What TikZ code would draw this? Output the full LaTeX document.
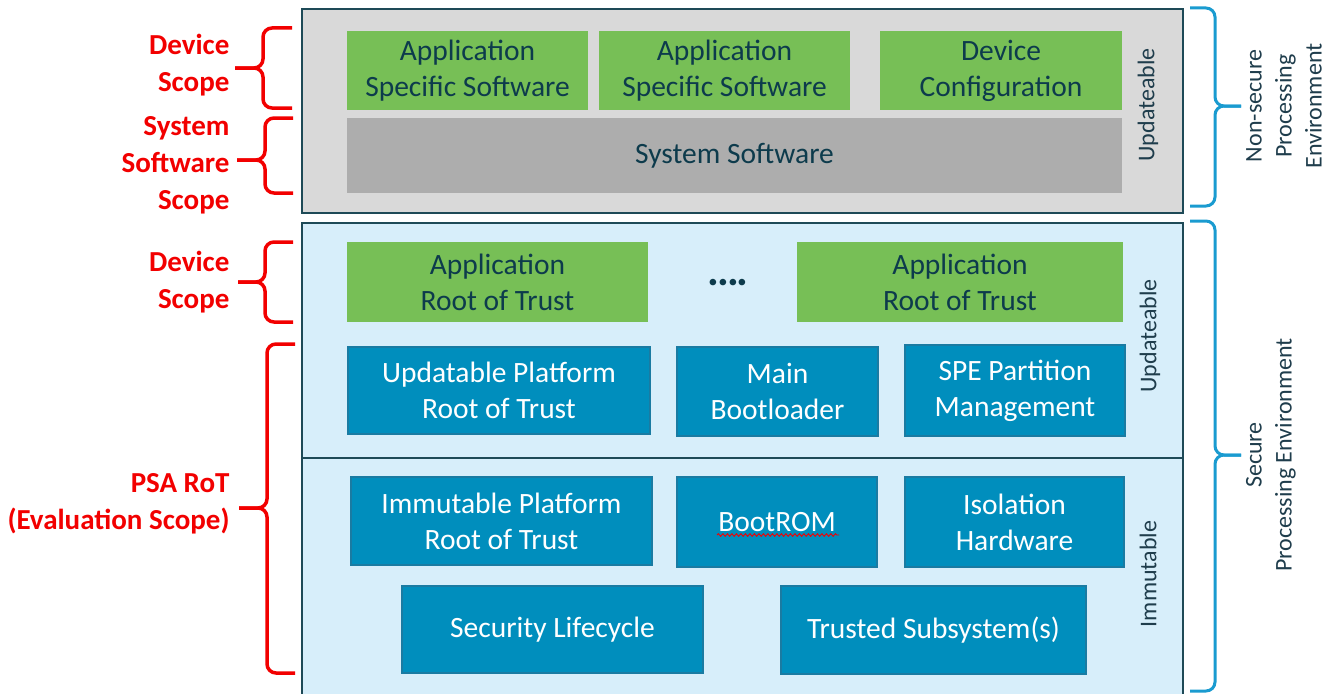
\documentclass[tikz,border=0pt]{standalone}
\usepackage{fontspec}
\setmainfont{Carlito}
\usetikzlibrary{decorations.pathmorphing}
\definecolor{frameC}{HTML}{1E4A57}
\definecolor{grayF}{HTML}{D9D9D9}
\definecolor{sysF}{HTML}{ADADAD}
\definecolor{greenF}{HTML}{77BF56}
\definecolor{secF}{HTML}{D7EEFA}
\definecolor{blueF}{HTML}{008EBD}
\definecolor{blueD}{HTML}{1A7BA2}
\definecolor{txtD}{HTML}{0D3B4C}
\definecolor{sideT}{HTML}{1F3D4C}
\definecolor{redL}{HTML}{F20000}
\definecolor{braceB}{HTML}{1A9BD0}
\tikzset{
  layer/.style={draw=frameC, line width=2pt, inner sep=0pt},
  greenbox/.style={fill=greenF, draw=none, inner sep=0pt, align=center, text=txtD,
    font=\fontsize{29.5}{36}\selectfont},
  sysbox/.style={fill=sysF, draw=none, inner sep=0pt, align=center, text=txtD,
    font=\fontsize{29.5}{36}\selectfont},
  bluebox/.style={fill=blueF, draw=blueD, line width=1.2pt, inner sep=0pt, align=center, text=white,
    font=\fontsize{29.5}{36}\selectfont},
  sidelabel/.style={rotate=90, text=sideT, font=\fontsize{24}{30}\selectfont, align=center},
  scopelabel/.style={text=redL, font=\bfseries\fontsize{29}{37}\selectfont, align=right, anchor=east},
  redbrace/.style={draw=redL, line width=3.5pt, rounded corners=9pt},
  bluebrace/.style={draw=braceB, line width=3pt, rounded corners=9pt},
}
\begin{document}
\begin{tikzpicture}[x=1pt, y=-1pt]
\useasboundingbox (0,0) rectangle (1337,693);
% layers
\node[layer, fill=grayF, minimum width=881pt, minimum height=204pt] (ns) at (742.5,111) {};
\node[layer, fill=secF, minimum width=881pt, minimum height=477pt] (se) at (742.5,461.5) {};
\coordinate (divL) at (302,458);
\coordinate (divR) at (1183,458);
\draw[draw=frameC, line width=2pt] (divL) -- (divR);
% non-secure content
\node[greenbox, minimum width=241pt, minimum height=79pt] (as1) at (467.5,70.5) {Application\\Specific Software};
\node[greenbox, minimum width=251pt, minimum height=79pt] (as2) at (724.5,70.5) {Application\\Specific Software};
\node[greenbox, minimum width=242pt, minimum height=79pt] (dc) at (1001,70.5) {Device\\Configuration};
\node[sysbox, minimum width=775pt, minimum height=75pt] (ss) at (734.5,155.5) {System Software};
% secure updateable
\node[greenbox, minimum width=301pt, minimum height=80pt] (ar1) at (497.5,282) {Application\\Root of Trust};
\node[greenbox, minimum width=326pt, minimum height=80pt] (ar2) at (960,282) {Application\\Root of Trust};
\node[text=txtD, font=\bfseries\fontsize{44}{44}\selectfont, inner sep=0pt, anchor=base] (dots) at (728,285) {.\kern-2pt.\kern-2pt.\kern-2pt.};
\node[bluebox, minimum width=302pt, minimum height=87pt] (uprot) at (499,390.5) {Updatable Platform\\Root of Trust};
\node[bluebox, minimum width=201pt, minimum height=89pt] (mbl) at (777.5,391.5) {Main\\Bootloader};
\node[bluebox, minimum width=220pt, minimum height=91pt] (spe) at (1015,390.5) {SPE Partition\\Management};
% secure immutable
\node[bluebox, minimum width=301pt, minimum height=88pt] (iprot) at (501.5,521) {Immutable Platform\\Root of Trust};
\node[bluebox, minimum width=200pt, minimum height=90pt] (brom) at (777,522) {BootROM};
\node[bluebox, minimum width=219pt, minimum height=90pt] (iso) at (1014.5,522) {Isolation\\Hardware};
\node[bluebox, minimum width=301pt, minimum height=87pt] (slc) at (552.5,629.5) {Security Lifecycle};
\node[bluebox, minimum width=305pt, minimum height=88pt] (tss) at (933.5,630) {Trusted Subsystem(s)};
\draw[draw=redL, line width=0.9pt, decorate, decoration={snake, amplitude=1.3pt, segment length=4.5pt}]
  (brom.center) ++(-60,13) -- ++(122,0);
% side labels
\node[sidelabel] (upd1) at (1148,105) {Updateable};
\node[sidelabel] (upd2) at (1150,336) {Updateable};
\node[sidelabel] (imm) at (1148,574) {Immutable};
% right braces
\draw[bluebrace] (1190,8) -- (1215,8) -- (1215,106) -- (1241,106);
\draw[bluebrace] (1190,206) -- (1215,206) -- (1215,106) -- (1241,106);
\draw[bluebrace] (1190,221) -- (1215,221) -- (1215,455) -- (1241,455);
\draw[bluebrace] (1190,691) -- (1215,691) -- (1215,455) -- (1241,455);
\node[sidelabel] (nspe) at (1284,106) {Non-secure\\Processing\\Environment};
\node[sidelabel] (spel) at (1271,455) {Secure\\Processing Environment};
% left braces
\draw[redbrace] (292,28) -- (263,28) -- (263,68) -- (235,68);
\draw[redbrace] (292,108) -- (263,108) -- (263,68) -- (235,68);
\draw[redbrace] (293,118) -- (265,118) -- (265,160) -- (237,160);
\draw[redbrace] (293,193) -- (265,193) -- (265,160) -- (237,160);
\draw[redbrace] (293,242) -- (265,242) -- (265,282) -- (238,282);
\draw[redbrace] (293,322) -- (265,322) -- (265,282) -- (238,282);
\draw[redbrace] (295,344) -- (267,344) -- (267,508) -- (239,508);
\draw[redbrace] (295,673) -- (267,673) -- (267,508) -- (239,508);
\node[scopelabel] (ds1) at (233,65.5) {Device\\Scope};
\node[scopelabel] (sss) at (233,165) {System\\Software\\Scope};
\node[scopelabel] (ds2) at (233,282) {Device\\Scope};
\node[scopelabel] (psa) at (233,504) {PSA RoT\\(Evaluation Scope)};
\end{tikzpicture}
\end{document}
